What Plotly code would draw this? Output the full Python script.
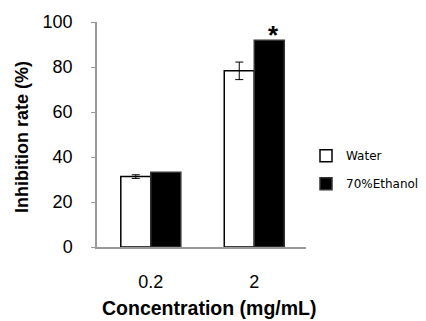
import plotly.graph_objects as go

categories = ["0.2", "2"]
water = [31.3, 78.3]
water_err = [0.8, 3.9]
ethanol = [33.2, 91.9]
y_ticks = [0, 20, 40, 60, 80, 100]
star_category = "2"
x_title = "Concentration (mg/mL)"
y_title = "Inhibition rate (%)"

font = "Liberation Sans, Arial, sans-serif"

fig = go.Figure()
fig.add_trace(go.Bar(
    x=categories, y=water, name="Water",
    marker=dict(color="white", line=dict(color="black", width=1.5)),
    error_y=dict(type="data", array=water_err, visible=True, color="black", thickness=1, width=4),
    legendgroup="a",
))
fig.add_trace(go.Bar(
    x=categories, y=ethanol, name="70%Ethanol",
    marker=dict(color="black", line=dict(color="#333", width=1.5)),
    legendgroup="b",
))

star_idx = categories.index(star_category)
fig.add_annotation(x=star_idx, y=ethanol[star_idx], text="<b>*</b>", showarrow=False,
                   xref="x", yref="y",
                   xshift=19, yshift=-12, yanchor="bottom",
                   font=dict(family=font, size=26, color="black"))

# axis titles as annotations for exact placement
fig.add_annotation(x=0.54, y=0, xref="paper", yref="paper", yshift=-61,
                   text="<b>" + x_title + "</b>", showarrow=False,
                   xanchor="center", yanchor="middle",
                   font=dict(family=font, size=19.5, color="black"))
fig.add_annotation(x=0, y=0.489, xref="paper", yref="paper", xshift=-75,
                   text="<b>" + y_title + "</b>", showarrow=False, textangle=-90,
                   xanchor="center", yanchor="middle",
                   font=dict(family=font, size=18, color="black"))

# figure is slightly wider than the 426px window so the legend never pushes the plot area
fig.update_layout(
    width=440, height=321,
    margin=dict(l=97, r=134, t=17, b=74),
    plot_bgcolor="white", paper_bgcolor="white",
    barmode="group", bargap=0.42, bargroupgap=0,
    font=dict(family=font, color="black"),
    legend=dict(x=1.0, y=0.47, xref="paper", yref="paper",
                xanchor="left", yanchor="top",
                font=dict(size=12, family="DejaVu Sans, Verdana, sans-serif"),
                traceorder="grouped", itemwidth=30, tracegroupgap=9),
    showlegend=True,
)
fig.update_xaxes(
    type="category",
    showline=True, linecolor="#999", linewidth=1.5,
    ticks="", tickfont=dict(size=18, family=font), ticklabelstandoff=18,
    range=[-0.52, 1.5],
)
fig.update_yaxes(
    range=[0, 100], tickvals=y_ticks, showgrid=False, zeroline=False,
    showline=True, linecolor="#999", linewidth=1.5,
    ticks="outside", ticklen=4, tickcolor="#999",
    tickfont=dict(size=18, family=font), ticklabelstandoff=15,
)

fig.write_html("out.html", config={"displayModeBar": False},
               post_script="document.body.style.margin='0px';document.body.style.overflow='hidden';")
